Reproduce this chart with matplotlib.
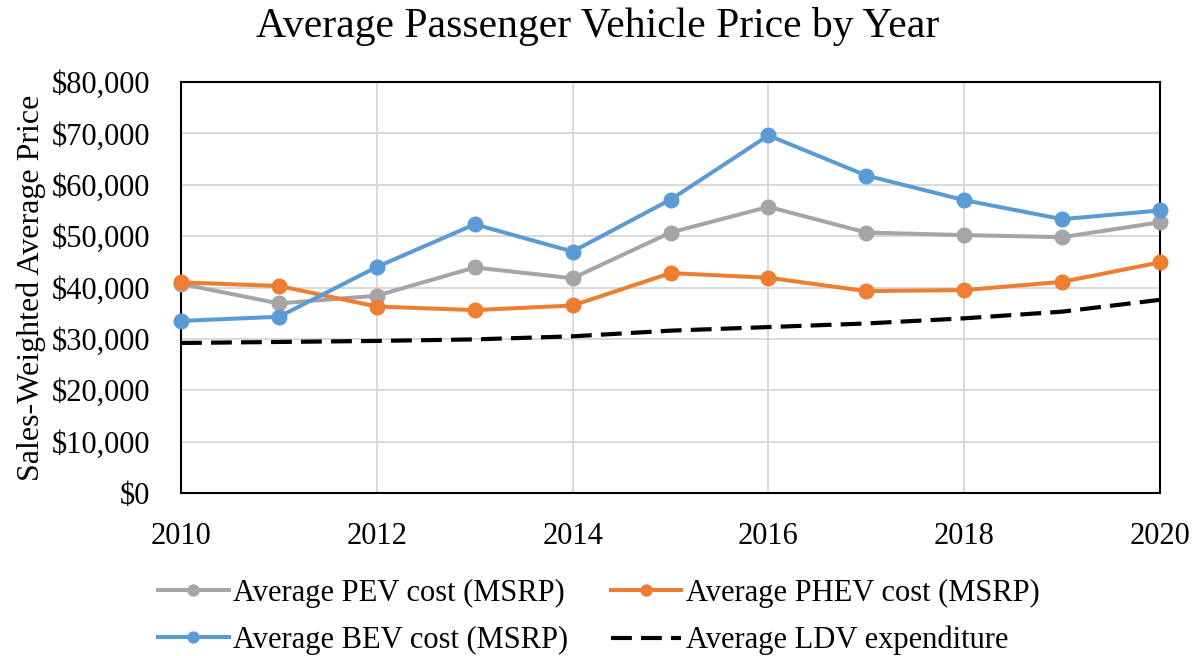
import matplotlib
matplotlib.use("Agg")
import matplotlib.pyplot as plt
from matplotlib.ticker import FuncFormatter, MultipleLocator

# data
years = [2010, 2011, 2012, 2013, 2014, 2015, 2016, 2017, 2018, 2019, 2020]
pev_cost = [40700, 36900, 38400, 43900, 41800, 50700, 55700, 50700, 50200, 49800, 52700]
phev_cost = [41000, 40300, 36300, 35600, 36500, 42800, 41900, 39300, 39500, 41100, 44900]
bev_cost = [33500, 34300, 44000, 52300, 47000, 57100, 69600, 61800, 57000, 53300, 55000]
ldv_expenditure = [29200, 29400, 29600, 29900, 30500, 31600, 32300, 33000, 34000, 35300, 37600]

plt.rcParams["font.family"] = ["Liberation Serif", "DejaVu Serif"]

fig = plt.figure(figsize=(12, 6.56), dpi=100)
ax = fig.add_axes([181 / 1200, 1 - 493 / 656, (1160 - 181) / 1200, (493 - 82) / 656])

line_kw = dict(linewidth=2.9, marker="o", markersize=10.5, clip_on=False, zorder=3)
l_pev, = ax.plot(years, pev_cost, color="#A5A5A5", label="Average PEV cost (MSRP)", **line_kw)
l_phev, = ax.plot(years, phev_cost, color="#ED7D31", label="Average PHEV cost (MSRP)", **line_kw)
l_bev, = ax.plot(years, bev_cost, color="#5B9BD5", label="Average BEV cost (MSRP)", **line_kw)
l_ldv, = ax.plot(years, ldv_expenditure, color="black", linestyle=(0, (5, 2.2)), linewidth=3,
                 label="Average LDV expenditure", clip_on=False, zorder=3)

ax.set_xlim(2010, 2020)
ax.set_ylim(0, 80000)
ax.xaxis.set_major_locator(MultipleLocator(2))
ax.yaxis.set_major_locator(MultipleLocator(10000))
ax.yaxis.set_major_formatter(FuncFormatter(lambda v, _: f"${v:,.0f}"))
ax.grid(True, color="#D9D9D9", linewidth=1.4, zorder=0)
ax.set_axisbelow(True)
for sp in ax.spines.values():
    sp.set_linewidth(1.5)
    sp.set_color("black")
ax.tick_params(axis="both", length=0, labelsize=22)
ax.tick_params(axis="x", pad=21)
ax.tick_params(axis="y", pad=22)

ax.set_ylabel("Sales-Weighted Average Price", fontsize=23, labelpad=4)
fig.text(0.498, 0.960, "Average Passenger Vehicle Price by Year", fontsize=30,
         ha="center", va="center")

# column-major fill -> order so rows read PEV/PHEV then BEV/LDV
handles = [l_pev, l_bev, l_phev, l_ldv]
ax.legend(handles=handles, labels=[h.get_label() for h in handles],
          loc="upper center", bbox_to_anchor=(0.427, -0.172), ncol=2, frameon=False,
          fontsize=22, handlelength=2.3, handletextpad=0.15, columnspacing=1.4,
          labelspacing=0.58, markerscale=0.75, borderpad=0)

fig.savefig("out.png", dpi=100)
